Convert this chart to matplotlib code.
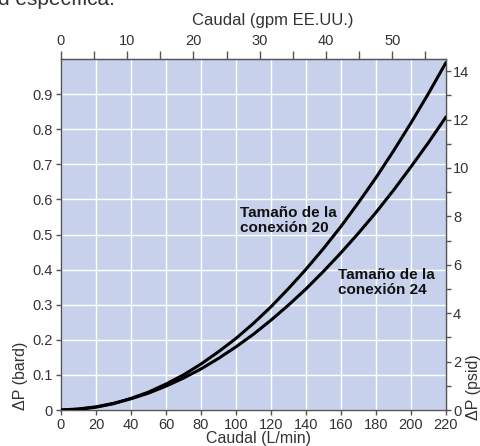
import matplotlib
matplotlib.use("Agg")
import matplotlib.pyplot as plt
import numpy as np
from matplotlib.ticker import MultipleLocator, FixedLocator, FuncFormatter

plt.rcParams['font.family'] = ['Liberation Sans Narrow', 'Liberation Sans', 'DejaVu Sans']

# Data (flow in L/min, pressure drop in bar)
flow_lpm = [0, 10, 20, 30, 40, 50, 60, 70, 80, 90, 100, 110, 120, 130, 140,
            150, 160, 170, 180, 190, 200, 210, 220]
dp_size20 = [0, 0.002, 0.008, 0.018, 0.033, 0.051, 0.074, 0.100, 0.131, 0.166,
             0.204, 0.247, 0.294, 0.346, 0.401, 0.460, 0.523, 0.591, 0.662,
             0.738, 0.818, 0.902, 0.990]
dp_size24 = [0, 0.003, 0.009, 0.019, 0.032, 0.048, 0.068, 0.091, 0.117, 0.147,
             0.180, 0.216, 0.256, 0.299, 0.345, 0.395, 0.448, 0.504, 0.563,
             0.626, 0.693, 0.762, 0.835]
label_20 = "Tamaño de la\nconexión 20"
label_24 = "Tamaño de la\nconexión 24"
LPM_PER_GPM = 3.785
PSI_PER_BAR = 14.5038

W, H = 481, 446
PX = 0.72  # points per pixel at dpi 100
fig = plt.figure(figsize=(W / 100, H / 100), dpi=100)
ax = fig.add_axes([61 / W, (H - 410) / H, (446 - 61) / W, (410 - 59) / H])

bg = '#C7D1EB'
txt = '#333333'
spine_c = '#555555'
ax.set_facecolor(bg)
ax.set_xlim(0, 220)
ax.set_ylim(0, 1.0)

ax.xaxis.set_major_locator(MultipleLocator(20))
ax.yaxis.set_major_locator(FixedLocator([0, 0.1, 0.2, 0.3, 0.4, 0.5, 0.6, 0.7, 0.8, 0.9]))
ax.yaxis.set_major_formatter(FuncFormatter(lambda v, p: '0' if abs(v) < 1e-9 else f'{v:.1f}'))
ax.grid(True, color='white', linewidth=1.0)
ax.set_axisbelow(True)

ax.plot(flow_lpm, dp_size20, color='black', linewidth=2.2, solid_capstyle='round', zorder=3)
ax.plot(flow_lpm, dp_size24, color='black', linewidth=2.2, solid_capstyle='round', zorder=3)

ax.text(102.5, 0.582, label_20, fontsize=11, fontweight='bold', color='#111111',
        va='top', ha='left', linespacing=1.1, family=['Liberation Sans', 'DejaVu Sans'])
ax.text(158.5, 0.405, label_24, fontsize=11, fontweight='bold', color='#111111',
        va='top', ha='left', linespacing=1.1, family=['Liberation Sans', 'DejaVu Sans'])

for s in ax.spines.values():
    s.set_color(spine_c)
    s.set_linewidth(1.0)

ax.tick_params(axis='both', colors=spine_c, labelcolor=txt, labelsize=10.5,
               length=5 * PX, width=1, direction='out')
ax.tick_params(axis='x', pad=3 * PX)
ax.tick_params(axis='y', pad=3 * PX)

# top axis (gpm)
top = ax.secondary_xaxis('top', functions=(lambda x: x / LPM_PER_GPM, lambda g: g * LPM_PER_GPM))
top.xaxis.set_major_locator(MultipleLocator(10))
top.xaxis.set_minor_locator(FixedLocator([5, 15, 25, 35, 45, 55]))
top.tick_params(which='both', colors=spine_c, labelcolor=txt, labelsize=10.5,
                length=8 * PX, width=1, direction='out', pad=3 * PX)
top.spines['top'].set_color(spine_c)

# right axis (psid)
right = ax.secondary_yaxis('right', functions=(lambda b: b * PSI_PER_BAR, lambda p: p / PSI_PER_BAR))
right.yaxis.set_major_locator(MultipleLocator(2))
right.yaxis.set_minor_locator(FixedLocator([1, 3, 5, 7, 9, 11, 13]))
right.tick_params(which='both', colors=spine_c, labelcolor=txt, labelsize=10.5,
                  length=5 * PX, width=1, direction='out', pad=2 * PX)
right.spines['right'].set_color(spine_c)

fig.text(273 / W, 1 - 20 / H, "Caudal (gpm EE.UU.)", ha='center', va='center',
         fontsize=12, color=txt)
fig.text(259 / W, 1 - 439 / H, "Caudal (L/min)", ha='center', va='center',
         fontsize=11.5, color=txt)
fig.text(21 / W, 1 - 410 / H, "ΔP (bard)", ha='center', va='bottom', rotation=90,
         fontsize=11.5, color=txt)
fig.text(474 / W, 1 - 420 / H, "ΔP (psid)", ha='center', va='bottom', rotation=90,
         fontsize=11.5, color=txt)
fig.text(-2 / W, 1 - 5 / H, "d específica.", ha='left', va='baseline',
         fontsize=15, color=txt, family=['Liberation Sans', 'DejaVu Sans'])

fig.savefig('out.png', dpi=100, facecolor='white')
